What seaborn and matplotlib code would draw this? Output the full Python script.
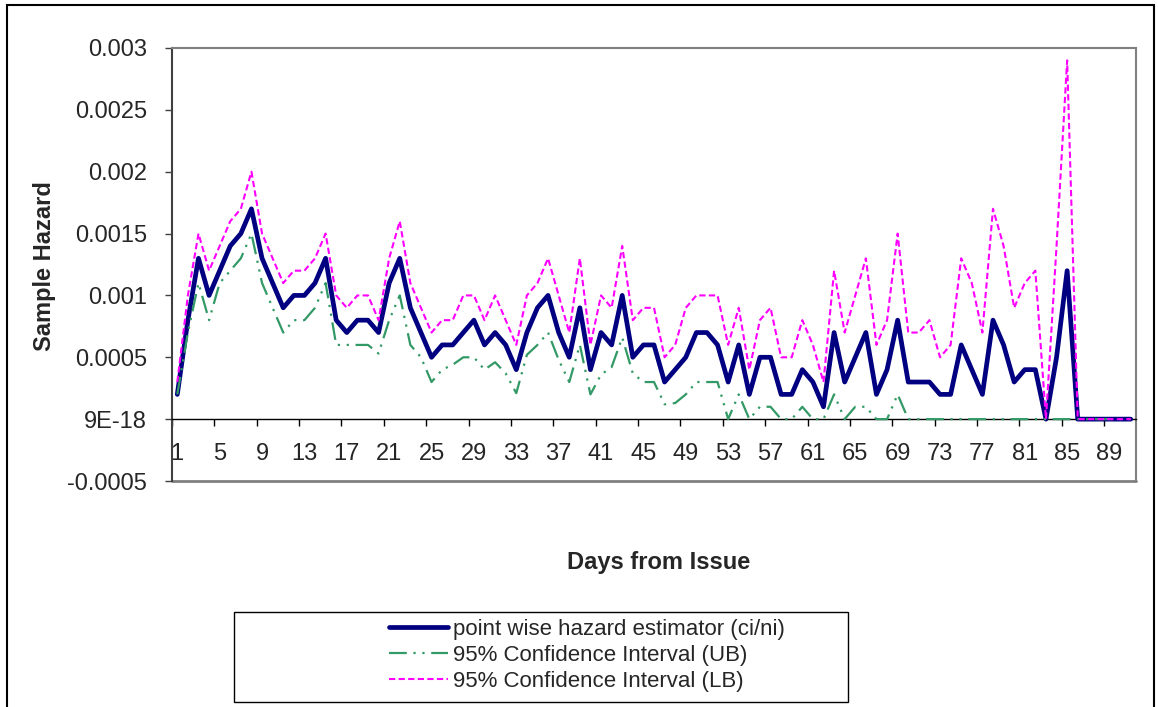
import numpy as np
import pandas as pd
import matplotlib
matplotlib.use("Agg")
import matplotlib.pyplot as plt
import seaborn as sns
from matplotlib.patches import Rectangle

# ---------------- data (values in units of 1e-4) ----------------
days = list(range(1, 92))
hazard = [2, 8, 13, 10, 12, 14, 15, 17, 13, 11, 9, 10, 10, 11, 13, 8, 7, 8, 8, 7,
          11, 13, 9, 7, 5, 6, 6, 7, 8, 6, 7, 6, 4, 7, 9, 10, 7, 5, 9, 4,
          7, 6, 10, 5, 6, 6, 3, 4, 5, 7, 7, 6, 3, 6, 2, 5, 5, 2, 2, 4,
          3, 1, 7, 3, 5, 7, 2, 4, 8, 3, 3, 3, 2, 2, 6, 4, 2, 8, 6, 3,
          4, 4, 0, 5, 12, 0, 0, 0, 0, 0, 0]
ub = [2, 7, 11, 8, 11, 12, 13, 15, 11, 9, 7, 8, 8, 9, 11, 6, 6, 6, 6, 5.3,
      8, 10, 6, 5, 3, 4, 4.4, 5, 5, 4, 4.6, 3.7, 2.1, 5.2, 6, 7, 4.8, 3, 6, 2,
      3.6, 4.2, 6.6, 3.7, 3, 3, 1.2, 1.3, 2, 3, 3, 3, 0, 2, 0, 1, 1, 0, 0, 1,
      0, 0, 2, 0, 1, 1, 0, 0, 2, 0, 0, 0, 0, 0, 0, 0, 0, 0, 0, 0,
      0, 0, 0, 0, 0, 0, 0, 0, 0, 0, 0]
lb = [3, 10, 15, 12, 14, 16, 17, 20, 15, 13, 11, 12, 12, 13, 15, 10, 9, 10, 10, 8,
      13, 16, 11, 9, 7, 8, 8, 10, 10, 8, 10, 8, 6, 10, 11, 13, 10, 7, 13, 6,
      10, 9, 14, 8, 9, 9, 5, 6, 9, 10, 10, 10, 6, 9, 4, 8, 9, 5, 5, 8,
      6, 3, 12, 7, 10, 13, 6, 8, 15, 7, 7, 8, 5, 6, 13, 11, 7, 17, 14, 9,
      11, 12, 0, 14, 29, 0, 0, 0, 0, 0, 0]
scale = 1e-4
series_names = ["point wise hazard estimator (ci/ni)",
                "95% Confidence Interval (UB)",
                "95% Confidence Interval (LB)"]
ytick_vals = [-0.0005, 0.0, 0.0005, 0.001, 0.0015, 0.002, 0.0025, 0.003]
ytick_labels = ["-0.0005", "9E-18", "0.0005", "0.001", "0.0015", "0.002", "0.0025", "0.003"]
xlabel_days = list(range(1, 92, 4))
x_title = "Days from Issue"
y_title = "Sample Hazard"

# ---------------- style ----------------
sns.set_theme(style="white")
plt.rcParams["font.family"] = ["Liberation Sans", "DejaVu Sans"]

W, H = 1158, 707
fig = plt.figure(figsize=(W / 100, H / 100), dpi=100)
fig.patch.set_facecolor("white")
L, R, T, B = 172, 1136, 48, 481
ax = fig.add_axes([L / W, 1 - B / H, (R - L) / W, (B - T) / H])
ax.set_facecolor("white")

df = pd.DataFrame({
    "day": days,
    "hazard": np.array(hazard) * scale,
    "ub": np.array(ub) * scale,
    "lb": np.array(lb) * scale,
})

sns.lineplot(data=df, x="day", y="hazard", ax=ax, color="#000080", lw=3.4,
             label=series_names[0], zorder=3, solid_joinstyle="round",
             solid_capstyle="round")
sns.lineplot(data=df, x="day", y="ub", ax=ax, color="#339966", lw=1.6,
             linestyle=(0, (8, 3, 1, 3, 1, 3)), label=series_names[1], zorder=4)
sns.lineplot(data=df, x="day", y="lb", ax=ax, color="#FF00FF", lw=1.5,
             linestyle=(0, (3, 1.6)), label=series_names[2], zorder=5)

ax.set_xlim(0.5, 91.5)
ax.set_ylim(-0.0005, 0.003)
ax.set_xlabel("")
ax.set_ylabel("")

# spines
for s in ["top", "right"]:
    ax.spines[s].set_color("#808080")
    ax.spines[s].set_linewidth(1.5)
ax.spines["left"].set_color("#404040")
ax.spines["left"].set_linewidth(1.5)
ax.spines["bottom"].set_position(("data", 0))
ax.spines["bottom"].set_color("black")
ax.spines["bottom"].set_linewidth(1.0)
ax.axhline(-0.0005, color="#808080", lw=2.0, clip_on=False, zorder=1)

# y ticks
ax.set_yticks(ytick_vals)
ax.set_yticklabels(ytick_labels)
ax.tick_params(axis="y", direction="out", length=5, width=1, color="#404040",
               labelsize=17, pad=13, left=True)

# x ticks: major at category boundaries (no labels), minor at labelled days
ax.set_xticks(np.arange(0.5, 91, 4))
ax.tick_params(axis="x", which="major", direction="out", length=5, width=1,
               color="black", labelbottom=False, bottom=True)
ax.set_xticks(xlabel_days, minor=True)
ax.set_xticklabels([str(d) for d in xlabel_days], minor=True)
ax.tick_params(axis="x", which="minor", length=0, labelsize=17, pad=17)

ax.grid(False)

# titles
fig.text(45 / W, 1 - 266 / H, y_title, rotation=90, ha="center", va="center",
         fontsize=17, fontweight="bold")
fig.text(659 / W, 1 - 562 / H, x_title, ha="center", va="center",
         fontsize=17, fontweight="bold")

# legend
handles, labels = ax.get_legend_handles_labels()
ax.get_legend().remove()
fig.legend(handles, labels, loc="upper left",
           bbox_to_anchor=(389 / W, 1 - 619 / H), frameon=False, fontsize=16,
           handlelength=2.65, handletextpad=0.22, labelspacing=0.22,
           borderpad=0, borderaxespad=0)
fig.patches.append(Rectangle((234 / W, 1 - 702 / H), (848 - 234) / W, 90 / H,
                             transform=fig.transFigure, fill=False,
                             ec="black", lw=1.0))
# outer chart border
fig.patches.append(Rectangle((7 / W, -0.05), (1154 - 7) / W, (1 - 5 / H) + 0.05,
                             transform=fig.transFigure, fill=False,
                             ec="black", lw=1.5))

fig.savefig("out.png", dpi=100)
